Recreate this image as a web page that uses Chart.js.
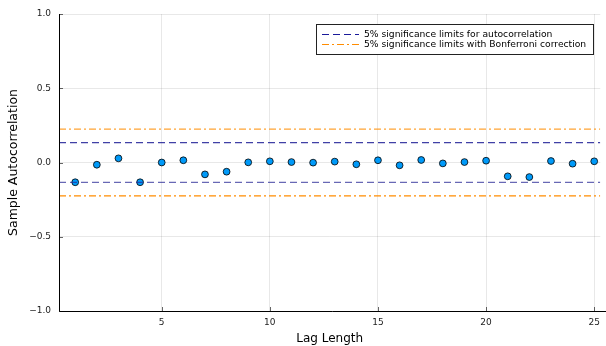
<!DOCTYPE html>
<html>
<head>
<meta charset="utf-8">
<script src="https://cdn.jsdelivr.net/npm/chart.js@4"></script>
<style>
  html, body { margin: 0; padding: 0; background: #fff; }
  #wrap { width: 606px; height: 346px; }
</style>
</head>
<body>
<div id="wrap"><canvas id="acfChart" width="606" height="346"></canvas></div>
<script>
const lags = [1, 2, 3, 4, 5, 6, 7, 8, 9, 10, 11, 12, 13, 14, 15, 16, 17, 18, 19, 20, 21, 22, 23, 24, 25];
const acf = [-0.133, -0.015, 0.028, -0.133, 0.0, 0.015, -0.080, -0.062, 0.001, 0.008, 0.003, -0.001, 0.006,
  -0.012, 0.015, -0.019, 0.017, -0.006, 0.003, 0.012, -0.093, -0.098, 0.010, -0.008, 0.008];
const xLimits = [0.25, 25.28];
const sigLimit = 0.134;
const bonfLimit = 0.225;
const xTicks = [5, 10, 15, 20, 25];
const yTicks = [-1, -0.5, 0, 0.5, 1];
const legendLabels = ["5% significance limits for autocorrelation", "5% significance limits with Bonferroni correction"];

const font = "DejaVu Sans";

function hline(y) {
  return xLimits.map(function (x) { return { x: x, y: y }; });
}

const blue = "rgba(30, 30, 150, 0.85)";
const orange = "#ff8c00";

const legendBox = {
  id: "legendBox",
  afterDraw: function (chart) {
    const ctx = chart.ctx;
    const left = 316, top = 24, w = 277, h = 30;
    ctx.save();
    ctx.fillStyle = "#fff";
    ctx.fillRect(left, top, w, h);
    ctx.strokeStyle = "#222";
    ctx.lineWidth = 1;
    ctx.strokeRect(left + 0.5, top + 0.5, w, h);
    const styles = [
      { color: "#1a1a9a", dash: [7, 4] },
      { color: orange, dash: [7, 3, 2, 3] },
    ];
    ctx.font = "9.2px '" + font + "'";
    ctx.textBaseline = "middle";
    legendLabels.forEach(function (label, i) {
      const y = top + 10.5 + i * 10;
      ctx.strokeStyle = styles[i].color;
      ctx.lineWidth = 1.2;
      ctx.setLineDash(styles[i].dash);
      ctx.beginPath();
      ctx.moveTo(322, y);
      ctx.lineTo(359, y);
      ctx.stroke();
      ctx.setLineDash([]);
      ctx.fillStyle = "#000";
      ctx.fillText(label, 364, y);
    });
    ctx.restore();
  },
};

// frame on the left and bottom, with short inward tick marks
const axisLines = {
  id: "axisLines",
  afterDatasetsDraw: function (chart) {
    const a = chart.chartArea;
    const ctx = chart.ctx;
    const xs = chart.scales.x, ys = chart.scales.y;
    ctx.save();
    ctx.strokeStyle = "rgba(0,0,0,0.6)";
    ctx.lineWidth = 1;
    ctx.beginPath();
    xTicks.forEach(function (v) {
      const px = Math.round(xs.getPixelForValue(v)) + 0.5;
      ctx.moveTo(px, a.bottom);
      ctx.lineTo(px, a.bottom - 4);
    });
    yTicks.forEach(function (v) {
      const py = Math.round(ys.getPixelForValue(v)) + 0.5;
      ctx.moveTo(a.left, py);
      ctx.lineTo(a.left + 4, py);
    });
    ctx.stroke();
    ctx.strokeStyle = "#000";
    ctx.beginPath();
    ctx.moveTo(a.left + 0.5, a.top);
    ctx.lineTo(a.left + 0.5, a.bottom + 0.5);
    ctx.lineTo(chart.width, a.bottom + 0.5);
    ctx.stroke();
    ctx.restore();
  },
};

const ctx = document.getElementById("acfChart").getContext("2d");

new Chart(ctx, {
  type: "scatter",
  data: {
    datasets: [
      {
        label: "lower bonf",
        type: "line",
        data: hline(-bonfLimit),
        borderColor: orange,
        borderWidth: 1.2,
        borderDash: [7, 3, 2, 3],
        pointRadius: 0,
        fill: false,
      },
      {
        label: "upper bonf",
        type: "line",
        data: hline(bonfLimit),
        borderColor: "rgba(255, 140, 0, 0.8)",
        borderWidth: 1.2,
        borderDash: [7, 3, 2, 3],
        pointRadius: 0,
        fill: false,
      },
      {
        label: "lower",
        type: "line",
        data: hline(-sigLimit),
        borderColor: "rgba(40, 40, 150, 0.7)",
        borderWidth: 1.2,
        borderDash: [7, 4],
        pointRadius: 0,
        fill: false,
      },
      {
        label: "upper",
        type: "line",
        data: hline(sigLimit),
        borderColor: blue,
        borderWidth: 1.2,
        borderDash: [7, 4],
        pointRadius: 0,
        fill: false,
      },
      {
        label: "acf",
        data: lags.map(function (l, i) { return { x: l, y: acf[i] }; }),
        backgroundColor: "#009af9",
        borderColor: "#000",
        borderWidth: 0.8,
        pointRadius: 3.4,
      },
    ],
  },
  options: {
    responsive: false,
    animation: false,
    layout: { padding: { top: 14, right: -3, left: 0, bottom: 0 } },
    plugins: {
      legend: { display: false },
      tooltip: { enabled: false },
    },
    scales: {
      x: {
        type: "linear",
        min: xLimits[0],
        max: xLimits[1],
        afterBuildTicks: function (axis) {
          axis.ticks = xTicks.map(function (v) { return { value: v }; });
        },
        afterFit: function (axis) { axis.height = 35; },
        border: { display: false },
        grid: { color: "rgba(0,0,0,0.09)", drawTicks: false },
        ticks: {
          padding: 6,
          maxRotation: 0,
          color: "#222",
          font: { family: font, size: 9 },
        },
        title: {
          display: true,
          text: "Lag Length",
          color: "#000",
          font: { family: font, size: 12 },
          padding: { top: 0, bottom: 0 },
        },
      },
      y: {
        min: -1,
        max: 1,
        afterBuildTicks: function (axis) {
          axis.ticks = yTicks.map(function (v) { return { value: v }; });
        },
        afterFit: function (axis) { axis.width = 59; },
        border: { display: false },
        grid: { color: "rgba(0,0,0,0.09)", drawTicks: false },
        ticks: {
          padding: 8,
          color: "#222",
          font: { family: font, size: 9 },
          callback: function (v) { return v.toFixed(1).replace("-", "\u2212"); },
        },
        title: {
          display: true,
          text: "Sample Autocorrelation",
          color: "#000",
          font: { family: font, size: 12.5 },
          padding: { top: 6, bottom: 0 },
        },
      },
    },
  },
  plugins: [axisLines, legendBox],
});
</script>
</body>
</html>
